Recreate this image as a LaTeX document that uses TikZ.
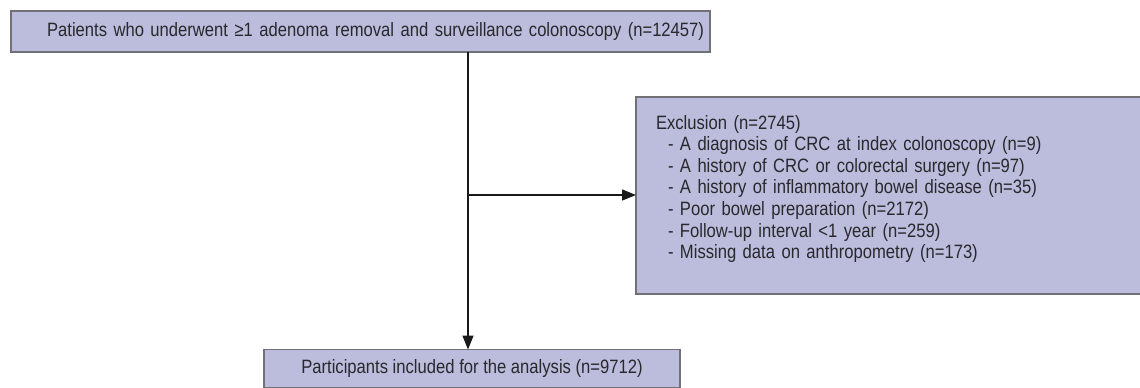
\documentclass[tikz,border=0pt]{standalone}
\usepackage{fontspec}
\setmainfont[FakeStretch=0.86]{Liberation Sans}
\usetikzlibrary{arrows.meta}
\definecolor{boxFill}{RGB}{188,188,220}
\definecolor{boxLine}{RGB}{112,112,118}
\definecolor{textGray}{RGB}{40,40,45}
\newcommand*{\xSplit}{468}
\newcommand*{\ySplit}{195}
\newcommand*{\xMax}{1140}
\newcommand*{\yMax}{387}

\begin{document}
\begin{tikzpicture}[x=0.02cm, y=-0.02cm, every node/.style={draw=boxLine, fill=boxFill, line width=1pt, text=textGray, outer sep=0pt, font=\fontsize{11pt}{12.3pt}\selectfont}]
	\useasboundingbox (0,0) rectangle (\xMax,\yMax);
	\node [minimum width=13.98cm, minimum height=0.82cm, text width=13.58cm, inner xsep=0.2cm, align=left] (patients) at (360.5,31.5) {\mbox{\hspace*{0.52cm}Patients who underwent ≥1 adenoma removal and surveillance colonoscopy (n=12457)}};
	\node [minimum width=8.32cm, minimum height=0.76cm] (included) at (472,368.5) {Participants included for the analysis (n=9712)};
	\node [anchor=north west, text width=12cm, inner xsep=0.4cm, inner ysep=0.36cm, text depth=2.94cm, align=left] (exclusion) at (636,97) {Exclusion (n=2745)\\
		\hspace*{0.24cm}- A diagnosis of CRC at index colonoscopy (n=9)\\
		\hspace*{0.24cm}- A history of CRC or colorectal surgery (n=97)\\
		\hspace*{0.24cm}- A history of inflammatory bowel disease (n=35)\\
		\hspace*{0.24cm}- Poor bowel preparation (n=2172)\\
		\hspace*{0.24cm}- Follow-up interval <1 year (n=259)\\
		\hspace*{0.24cm}- Missing data on anthropometry (n=173)};
	\coordinate (split) at (\xSplit,\ySplit);
	\path [draw, draw=black!90, line width=0.75pt, -{Triangle[length=0.28cm, width=0.22cm]}] (patients.south -| split) -- (included.north -| split);
	\path [draw, draw=black!90, line width=0.75pt, -{Triangle[length=0.28cm, width=0.22cm]}] (split) -- (exclusion.west |- split);
\end{tikzpicture}
\end{document}
